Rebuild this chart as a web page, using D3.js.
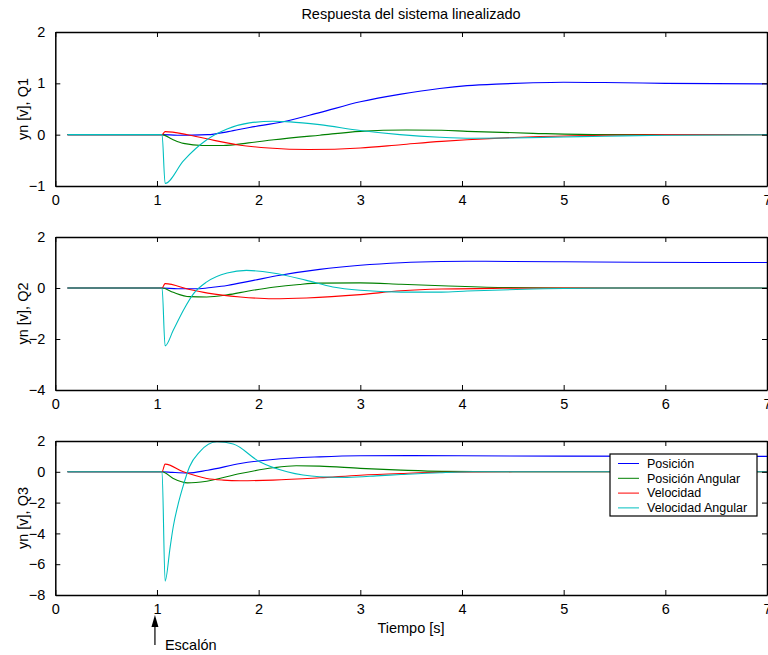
<!DOCTYPE html>
<html>
<head>
<meta charset="utf-8">
<script src="https://cdn.jsdelivr.net/npm/d3@7/dist/d3.min.js"></script>
<style>
  html, body { margin: 0; padding: 0; background: #fff; }
  svg { display: block; }
  text { font-family: "Liberation Sans", Arial, Helvetica, sans-serif; fill: #000; }
</style>
</head>
<body>
<svg id="chart" width="768" height="655"></svg>
<script>
// ---------------- DATA ----------------
const titleText = "Respuesta del sistema linealizado";
const xLabelText = "Tiempo [s]";
const yLabels = ["yn [v], Q1", "yn [v], Q2", "yn [v], Q3"];
const seriesNames = ["Posición", "Posición Angular", "Velocidad", "Velocidad Angular"];
const seriesColors = ["#0000ff", "#008000", "#ff0000", "#00bfbf"];
const xTicks = [0, 1, 2, 3, 4, 5, 6, 7];
const yDomains = [[-1, 2], [-4, 2], [-8, 2]];
const yTicks = [[-1, 0, 1, 2], [-4, -2, 0, 2], [-8, -6, -4, -2, 0, 2]];
const stepLabel = "Escalón";
const stepTime = 0.98;

// Q1
const q1Posicion = [[0.12,0],[1.05,0],[1.2,-0.01],[1.5,0.0],[1.7,0.06],[1.91,0.14],[2.24,0.25],[2.6,0.43],[3.0,0.64],[3.4,0.79],[3.78,0.90],[4.05,0.955],[4.4,0.99],[4.7,1.01],[5.0,1.02],[5.4,1.015],[6.0,1.0],[7,0.99]];
const q1PosAngular = [[0.12,0],[1.05,0],[1.15,-0.09],[1.26,-0.17],[1.45,-0.21],[1.65,-0.21],[1.9,-0.16],[2.15,-0.10],[2.6,-0.01],[3.0,0.065],[3.45,0.09],[3.8,0.085],[4.05,0.065],[4.7,0.026],[5.4,0.0],[7,0]];
const q1Velocidad = [[0.12,0],[1.05,0],[1.08,0.06],[1.3,0.0],[1.5,-0.085],[1.8,-0.2],[2.1,-0.26],[2.5,-0.29],[3.0,-0.26],[3.4,-0.195],[3.8,-0.13],[4.05,-0.10],[4.7,-0.04],[5.4,-0.01],[6,0],[7,0]];
const q1VelAngular = [[0.12,0],[1.05,0],[1.08,-0.95],[1.26,-0.51],[1.49,-0.10],[1.69,0.11],[1.91,0.23],[2.14,0.26],[2.31,0.25],[2.6,0.195],[3.0,0.08],[3.39,0.0],[3.78,-0.05],[4.1,-0.07],[4.5,-0.065],[5.0,-0.045],[5.4,-0.03],[6.0,-0.01],[7,0]];

// Q2
const q2Posicion = [[0.12,0],[1.05,0],[1.2,-0.03],[1.4,-0.03],[1.55,0.03],[1.69,0.10],[1.95,0.30],[2.21,0.50],[2.6,0.73],[3.0,0.89],[3.4,0.99],[3.8,1.04],[4.05,1.05],[4.5,1.04],[5.0,1.03],[5.7,1.01],[7,1.0]];
const q2PosAngular = [[0.12,0],[1.05,0],[1.16,-0.17],[1.32,-0.34],[1.49,-0.35],[1.69,-0.27],[1.9,-0.12],[2.14,0.03],[2.4,0.14],[2.6,0.19],[3.0,0.20],[3.4,0.15],[3.8,0.09],[4.4,0.02],[5,0],[7,0]];
const q2Velocidad = [[0.12,0],[1.05,0],[1.08,0.17],[1.32,-0.06],[1.5,-0.2],[1.82,-0.35],[2.14,-0.42],[2.47,-0.39],[3.0,-0.26],[3.4,-0.11],[3.8,-0.04],[4.4,-0.01],[5,0],[7,0]];
const q2VelAngular = [[0.12,0],[1.05,0],[1.08,-2.27],[1.16,-1.66],[1.26,-0.87],[1.36,-0.22],[1.49,0.24],[1.69,0.59],[1.88,0.69],[2.14,0.59],[2.47,0.30],[2.73,0.04],[3.0,-0.09],[3.4,-0.16],[3.8,-0.16],[4.05,-0.12],[4.7,-0.04],[5.4,0],[7,0]];

// Q3
const q3Posicion = [[0.12,0],[1.05,0],[1.15,-0.04],[1.3,-0.08],[1.5,0.1],[1.82,0.54],[2.14,0.8],[2.6,0.97],[3.0,1.04],[3.5,1.05],[4,1.04],[5,1.02],[7,1.0]];
const q3PosAngular = [[0.12,0],[1.05,0],[1.16,-0.43],[1.3,-0.72],[1.49,-0.61],[1.82,-0.11],[2.14,0.26],[2.37,0.39],[2.6,0.37],[3.0,0.22],[3.4,0.11],[3.8,0.03],[4.5,0],[7,0]];
const q3Velocidad = [[0.12,0],[1.05,0],[1.08,0.5],[1.26,0.0],[1.49,-0.43],[1.65,-0.54],[1.82,-0.58],[2.14,-0.54],[2.6,-0.39],[3.0,-0.22],[3.4,-0.11],[3.8,-0.03],[4.5,0],[7,0]];
const q3VelAngular = [[0.12,0],[1.05,0],[1.08,-7.1],[1.13,-4.87],[1.16,-3.57],[1.21,-2.05],[1.26,-0.86],[1.32,0.33],[1.42,1.30],[1.59,1.95],[1.75,1.80],[2.01,0.65],[2.28,0.0],[2.6,-0.32],[2.87,-0.36],[3.2,-0.25],[3.4,-0.18],[3.78,-0.06],[4.1,0],[7,0]];

const panels = [
  [q1Posicion, q1PosAngular, q1Velocidad, q1VelAngular],
  [q2Posicion, q2PosAngular, q2Velocidad, q2VelAngular],
  [q3Posicion, q3PosAngular, q3Velocidad, q3VelAngular]
];

// ---------------- LAYOUT ----------------
const svg = d3.select("#chart");
const left = 55.3, right = 767;
const panelBoxes = [[32, 186], [237, 390], [441, 595]];
const fs = 14.5;
const x = d3.scaleLinear().domain([0, 7]).range([left, right]);

svg.append("text").attr("x", 411).attr("y", 19).attr("text-anchor", "middle")
  .attr("font-size", 14.5).text(titleText);

panels.forEach((series, i) => {
  const [top, bottom] = panelBoxes[i];
  const y = d3.scaleLinear().domain(yDomains[i]).range([bottom, top]);
  const g = svg.append("g");

  const clipId = "clip" + i;
  svg.append("clipPath").attr("id", clipId).append("rect")
    .attr("x", left).attr("y", top).attr("width", right - left).attr("height", bottom - top);

  const line = d3.line().x(d => x(d[0])).y(d => y(d[1])).curve(d3.curveMonotoneX);
  const lg = g.append("g").attr("clip-path", `url(#${clipId})`);
  series.forEach((s, k) => {
    lg.append("path").attr("d", line(s)).attr("fill", "none")
      .attr("stroke", seriesColors[k]).attr("stroke-width", 1.1);
  });

  const fmt = d3.format("d");
  const bAxis = d3.axisBottom(x).tickValues(xTicks).tickSizeInner(-5).tickSizeOuter(0).tickPadding(9).tickFormat(fmt);
  const tAxis = d3.axisTop(x).tickValues(xTicks).tickSizeInner(-5).tickSizeOuter(0).tickFormat("");
  const lAxis = d3.axisLeft(y).tickValues(yTicks[i]).tickSizeInner(-5).tickSizeOuter(0).tickPadding(10).tickFormat(fmt);
  const rAxis = d3.axisRight(y).tickValues(yTicks[i]).tickSizeInner(-5).tickSizeOuter(0).tickFormat("");

  const styleAxis = sel => {
    sel.selectAll(".domain").attr("stroke", "#000").attr("stroke-width", 1.5);
    sel.selectAll(".tick line").attr("stroke", "#000").attr("stroke-width", 1);
    sel.selectAll(".tick text").attr("font-size", fs).attr("font-family", "Liberation Sans, Arial, sans-serif").attr("fill", "#000");
  };
  g.append("g").attr("transform", `translate(0,${bottom})`).call(bAxis).call(styleAxis);
  g.append("g").attr("transform", `translate(0,${top})`).call(tAxis).call(styleAxis);
  g.append("g").attr("transform", `translate(${left},0)`).call(lAxis).call(styleAxis);
  g.append("g").attr("transform", `translate(${right},0)`).call(rAxis).call(styleAxis);

  g.append("text").attr("transform", `translate(28,${(top + bottom) / 2}) rotate(-90)`)
    .attr("text-anchor", "middle").attr("font-size", fs).text(yLabels[i]);

  if (i === 2) {
    const lgd = g.append("g").attr("transform", "translate(610,454)");
    lgd.append("rect").attr("x", 0).attr("y", 0).attr("width", 147).attr("height", 62)
      .attr("fill", "#fff").attr("stroke", "#000").attr("stroke-width", 1.2);
    seriesNames.forEach((n, k) => {
      const yy = 9.5 + k * 14.8;
      lgd.append("line").attr("x1", 8).attr("x2", 29).attr("y1", yy).attr("y2", yy)
        .attr("stroke", seriesColors[k]).attr("stroke-width", 1);
      lgd.append("text").attr("x", 37).attr("y", yy).attr("dy", "0.35em")
        .attr("font-size", 12.5).text(n);
    });
  }
});

svg.append("text").attr("x", 411).attr("y", 633).attr("text-anchor", "middle")
  .attr("font-size", fs).text(xLabelText);

const ax = x(stepTime);
svg.append("line").attr("x1", ax).attr("x2", ax).attr("y1", 626).attr("y2", 645)
  .attr("stroke", "#000").attr("stroke-width", 1.2);
svg.append("path").attr("d", `M${ax},615 L${ax - 3.5},627 L${ax + 3.5},627 Z`).attr("fill", "#000");
svg.append("text").attr("x", ax + 10).attr("y", 650).attr("font-size", fs).text(stepLabel);
</script>
</body>
</html>
